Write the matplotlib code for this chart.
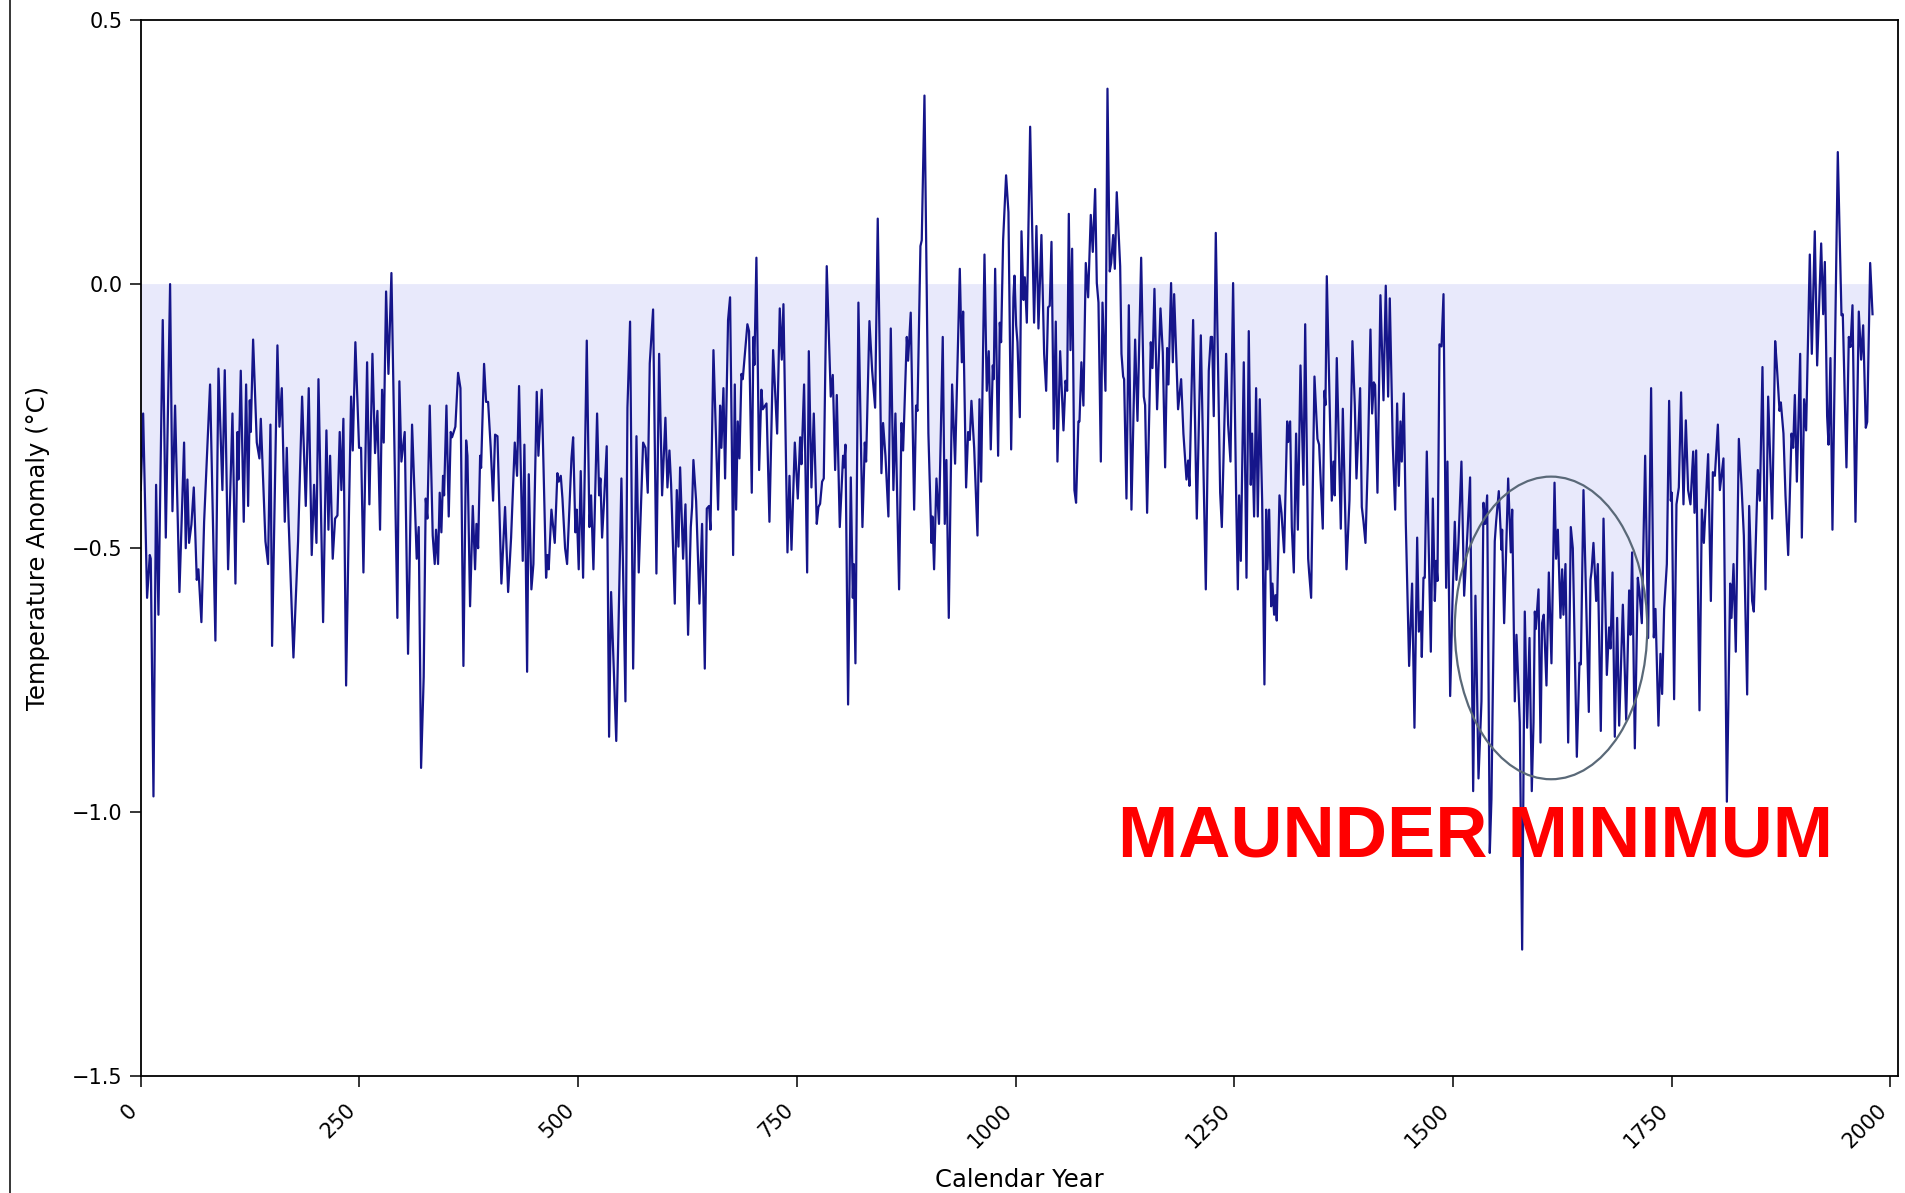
#!/usr/bin/env python3
"""
Reconstructed temperature anomaly, years 0-1980, with the Maunder Minimum marked.
Writes out.png
"""

import numpy as np
import matplotlib
matplotlib.use('Agg')
import matplotlib.pyplot as plt
from matplotlib.patches import Ellipse
from matplotlib.lines import Line2D

# turning points of the curve
years = [
    0.0, 2.7, 7.2, 10.3, 11.4, 14.5, 17.5, 20.2, 25.1, 28.6,
    33.5, 36.2, 39.2, 44.2, 49.5, 51.4, 53.3, 55.2, 57.9, 60.6,
    64.0, 65.9, 69.3, 72.4, 79.2, 85.3, 88.8, 93.3, 96.0, 99.8,
    104.8, 108.2, 110.5, 111.6, 114.3, 117.7, 120.4, 122.7, 124.6, 125.7,
    128.4, 132.6, 135.6, 137.2, 142.5, 145.5, 148.2, 150.1, 156.2, 158.5,
    161.2, 164.6, 166.9, 168.8, 174.5,
    179.8, 184.4, 188.6, 192.0, 195.4, 198.1, 200.8, 203.1, 208.4, 212.2,
    214.5, 216.4, 219.4, 222.1, 224.8, 227.4, 229.3, 231.6, 234.7, 238.1,
    240.4, 242.3, 245.3, 249.5, 251.8, 254.5, 258.7, 261.3, 264.8, 267.8,
    270.5, 273.5, 275.8, 277.7, 280.4, 283.1, 286.5, 293.3, 295.6, 297.9,
    301.7, 305.5, 310.1, 313.2, 315.4, 317.7, 320.4, 323.4, 325.7, 327.6,
    330.3, 333.7, 336.0, 337.5, 339.8, 341.7, 343.6, 345.5, 346.7, 349.4,
    352.0, 354.3, 355.8, 359.6, 362.7,
    365.4, 368.8, 371.9, 373.4, 376.4, 379.5, 382.1, 383.7, 385.6, 387.9,
    389.0, 392.4, 394.7, 397.0, 400.0, 402.7, 405.0, 407.7, 412.2, 416.4,
    419.9, 423.3, 427.5, 430.1, 432.4, 436.6, 438.5, 441.6, 443.5, 446.5,
    448.8, 452.6, 454.5, 458.3, 463.3, 464.8, 466.3, 469.4, 473.2, 476.2,
    477.8, 480.1, 482.0, 485.0, 487.3, 492.3, 494.2, 496.8, 498.3, 500.6,
    502.9, 505.6, 509.8, 512.8, 514.7, 517.4, 521.6, 523.9, 525.4, 527.3,
    529.6, 532.6, 535.3, 537.6, 543.5,
    549.4, 554.0, 556.3, 559.3, 562.8, 566.6, 569.2, 574.2, 576.9, 579.5,
    581.8, 585.6, 589.4, 592.5, 595.9, 599.7, 602.0, 604.3, 606.2, 610.4,
    612.7, 614.6, 616.5, 619.9, 622.6, 625.6, 628.7, 630.2, 631.7, 634.8,
    638.6, 641.6, 644.7, 647.0, 649.6, 651.2, 654.6, 659.9, 662.2, 663.7,
    666.0, 667.9, 671.3, 673.6, 677.1, 679.0, 680.5, 682.4, 684.3, 686.6,
    688.1, 693.4, 695.3, 698.4, 700.3, 701.4, 703.7, 706.8, 709.4, 711.0,
    715.2, 718.6, 722.8, 727.4, 730.4,
    732.7, 734.6, 739.2, 741.5, 743.8, 747.6, 751.0, 753.7, 755.2, 758.2,
    761.7, 763.6, 766.6, 769.3, 772.7, 774.6, 776.5, 778.8, 780.7, 784.1,
    788.7, 791.0, 793.7, 795.6, 799.0, 802.8, 803.9, 805.5, 808.5, 811.6,
    813.9, 815.0, 816.9, 820.3, 824.9, 827.6, 829.1, 832.9, 836.0, 839.4,
    842.4, 846.6, 848.5, 851.2, 854.6, 857.3, 860.3, 862.6, 866.8, 869.5,
    871.4, 875.6, 877.1, 880.1, 884.0, 886.2, 887.8, 891.2, 892.7, 895.8,
    900.3, 903.8, 904.9, 906.8, 909.5, 912.4,
    916.7, 919.0, 920.9, 923.6, 927.4, 930.8, 936.2, 938.5, 940.0, 943.4,
    945.7, 947.6, 949.5, 952.6, 956.4, 958.7, 960.6, 964.4, 967.0, 969.3,
    971.6, 973.9, 975.0, 976.6, 980.0, 981.9, 983.4, 985.7, 989.1, 991.8,
    994.9, 997.5, 998.7, 1000.6, 1002.1, 1004.8, 1006.7, 1009.0, 1010.5, 1012.8,
    1016.6, 1021.1, 1023.8, 1026.1, 1029.5, 1032.6, 1034.9, 1037.1, 1039.0, 1041.0,
    1043.6, 1045.9, 1047.8, 1050.9, 1054.7, 1057.0, 1058.9, 1060.8, 1062.7, 1064.6,
    1067.2, 1069.1, 1071.8, 1073.0, 1075.2, 1077.5, 1080.2, 1082.9, 1085.9, 1088.2,
    1090.9, 1092.8, 1094.7, 1097.4,
    1099.3, 1102.7, 1105.0, 1107.6, 1109.2, 1111.5, 1113.4, 1115.6, 1119.5, 1121.0,
    1122.9, 1124.0, 1126.7, 1129.4, 1132.4, 1136.6, 1139.3, 1143.5, 1146.5, 1148.0,
    1150.3, 1154.5, 1156.4, 1158.7, 1161.7, 1165.6, 1168.2, 1170.9, 1173.2, 1174.7,
    1177.7, 1179.7, 1181.2, 1185.7, 1189.2, 1191.8, 1195.3, 1197.2, 1198.7, 1202.9,
    1207.1, 1211.7, 1217.4, 1220.8, 1223.1, 1224.6, 1226.5, 1228.8, 1233.8, 1235.7,
    1240.6, 1242.9, 1245.6, 1248.6, 1252.0, 1254.0, 1255.5, 1257.4, 1260.8, 1263.9,
    1266.5, 1268.8, 1270.3, 1272.6, 1274.9, 1276.8, 1279.1,
    1281.8, 1284.4, 1286.4, 1287.9, 1289.8, 1292.1, 1293.6, 1295.5, 1297.0, 1298.5,
    1301.6, 1303.9, 1306.9, 1310.4, 1311.5, 1313.8, 1315.7, 1318.0, 1320.6, 1322.6,
    1325.6, 1329.0, 1331.0, 1334.4, 1335.5, 1337.8, 1341.6, 1345.0, 1346.9, 1351.1,
    1353.0, 1354.2, 1355.7, 1359.1, 1361.4, 1363.3, 1364.8, 1367.1, 1371.7, 1374.0,
    1378.2, 1381.6, 1385.0, 1387.7, 1389.6, 1393.8, 1395.7, 1397.6, 1399.9, 1402.6,
    1405.6, 1407.5, 1409.4, 1410.9, 1413.6, 1417.0, 1420.5, 1423.1, 1425.8, 1427.7,
    1431.1, 1433.8, 1436.1, 1438.0, 1439.9, 1441.4, 1443.7, 1446.0, 1449.8, 1453.2,
    1455.9, 1459.0, 1460.9,
    1463.2, 1464.3, 1466.2, 1467.7, 1470.0, 1474.6, 1476.9, 1479.2, 1480.7, 1482.2,
    1484.5, 1486.8, 1489.1, 1492.1, 1493.6, 1496.7, 1499.4, 1502.0, 1503.9, 1506.2,
    1509.6, 1512.7, 1516.5, 1519.5, 1523.0, 1525.6, 1529.1, 1532.5, 1534.8, 1536.7,
    1539.0, 1542.0, 1543.9, 1547.7, 1549.3, 1552.3, 1555.4, 1556.1, 1558.4, 1563.0,
    1566.0, 1567.6, 1570.6, 1572.5, 1574.4, 1576.3, 1579.0, 1582.0, 1584.7, 1587.4,
    1590.0, 1592.0, 1593.5, 1594.6, 1597.7, 1600.0, 1601.8, 1603.7, 1606.8, 1609.5,
    1612.5, 1616.0, 1617.8, 1619.8, 1622.8, 1624.7, 1626.2, 1628.5, 1631.6, 1634.6,
    1636.9,
    1641.5, 1644.5, 1646.1, 1649.1, 1655.2, 1657.1, 1658.3, 1660.5, 1663.6, 1665.5,
    1668.9, 1672.0, 1675.8, 1678.4, 1680.0, 1682.3, 1684.9, 1687.6, 1689.9, 1694.1,
    1697.9, 1701.3, 1702.8, 1704.7, 1707.8, 1711.2, 1713.1, 1715.8, 1719.6, 1723.0,
    1726.4, 1729.5, 1731.4, 1734.8, 1737.1, 1739.0, 1741.3, 1744.4, 1747.0, 1748.9,
    1750.1, 1752.7, 1755.4, 1758.1, 1760.7, 1763.4, 1766.1, 1768.7, 1771.4, 1774.5,
    1776.0, 1777.9, 1781.7, 1784.4, 1786.7, 1791.6, 1794.7, 1797.0, 1799.3, 1802.7,
    1805.0, 1809.1, 1813.0, 1816.8, 1818.3, 1820.6, 1823.2, 1826.7,
    1829.7, 1832.4, 1836.2, 1838.5, 1841.9, 1843.8, 1848.4, 1850.7, 1853.7, 1857.2,
    1860.2, 1864.8, 1868.2, 1870.1, 1873.2, 1874.7, 1877.7, 1880.0, 1883.1, 1886.9,
    1888.8, 1890.7, 1893.0, 1896.8, 1898.7, 1901.3, 1903.6, 1907.8, 1910.1, 1913.5,
    1916.2, 1920.8, 1923.1, 1925.0, 1927.6, 1929.2, 1931.4, 1933.7, 1939.8, 1944.0,
    1945.5, 1949.7, 1952.4, 1954.3, 1956.6, 1960.0, 1963.8, 1966.5, 1968.8, 1971.8,
    1973.4, 1976.8, 1979.5,
]

anomaly = [
    -0.39, -0.245, -0.594, -0.513, -0.52, -0.97, -0.38, -0.626, -0.068, -0.48,
    0.0, -0.43, -0.23, -0.583, -0.30, -0.50, -0.37, -0.49, -0.455, -0.385,
    -0.56, -0.54, -0.64, -0.45, -0.19, -0.675, -0.16, -0.39, -0.163, -0.54,
    -0.245, -0.567, -0.28, -0.37, -0.164, -0.45, -0.19, -0.42, -0.22, -0.28,
    -0.105, -0.30, -0.33, -0.255, -0.487, -0.53, -0.266, -0.685, -0.116, -0.27,
    -0.197, -0.45, -0.31, -0.44, -0.707,
    -0.487, -0.213, -0.42, -0.197, -0.513, -0.38, -0.49, -0.18, -0.64, -0.277,
    -0.465, -0.325, -0.52, -0.444, -0.438, -0.28, -0.39, -0.255, -0.76, -0.42,
    -0.213, -0.315, -0.11, -0.31, -0.31, -0.546, -0.148, -0.417, -0.132, -0.32,
    -0.24, -0.465, -0.20, -0.30, -0.014, -0.17, 0.021, -0.632, -0.184, -0.336,
    -0.28, -0.70, -0.266, -0.41, -0.52, -0.46, -0.916, -0.744, -0.406, -0.444,
    -0.23, -0.476, -0.53, -0.465, -0.53, -0.395, -0.47, -0.363, -0.40, -0.23,
    -0.44, -0.28, -0.29, -0.27, -0.168,
    -0.197, -0.723, -0.296, -0.325, -0.61, -0.42, -0.54, -0.454, -0.50, -0.325,
    -0.348, -0.151, -0.223, -0.223, -0.31, -0.41, -0.285, -0.288, -0.567, -0.422,
    -0.583, -0.48, -0.30, -0.363, -0.193, -0.524, -0.304, -0.734, -0.36, -0.578,
    -0.53, -0.204, -0.325, -0.20, -0.556, -0.513, -0.54, -0.427, -0.49, -0.358,
    -0.374, -0.363, -0.406, -0.50, -0.53, -0.33, -0.29, -0.47, -0.427, -0.54,
    -0.354, -0.556, -0.107, -0.46, -0.40, -0.54, -0.245, -0.40, -0.368, -0.48,
    -0.41, -0.307, -0.857, -0.583, -0.865,
    -0.368, -0.79, -0.234, -0.071, -0.728, -0.288, -0.546, -0.30, -0.31, -0.395,
    -0.15, -0.048, -0.548, -0.132, -0.40, -0.253, -0.385, -0.315, -0.38, -0.605,
    -0.39, -0.497, -0.347, -0.52, -0.417, -0.664, -0.46, -0.422, -0.333, -0.411,
    -0.605, -0.454, -0.728, -0.425, -0.42, -0.465, -0.125, -0.427, -0.23, -0.31,
    -0.197, -0.368, -0.068, -0.025, -0.513, -0.19, -0.427, -0.26, -0.33, -0.17,
    -0.18, -0.076, -0.089, -0.395, -0.10, -0.153, 0.05, -0.352, -0.20, -0.237,
    -0.226, -0.45, -0.125, -0.283, -0.046,
    -0.143, -0.038, -0.508, -0.363, -0.503, -0.30, -0.406, -0.29, -0.341, -0.19,
    -0.546, -0.127, -0.385, -0.245, -0.454, -0.422, -0.416, -0.374, -0.368, 0.034,
    -0.213, -0.172, -0.352, -0.21, -0.46, -0.325, -0.347, -0.304, -0.796, -0.366,
    -0.594, -0.53, -0.718, -0.035, -0.46, -0.30, -0.336, -0.07, -0.164, -0.234,
    0.124, -0.358, -0.263, -0.325, -0.44, -0.084, -0.39, -0.245, -0.578, -0.263,
    -0.315, -0.10, -0.145, -0.054, -0.427, -0.23, -0.24, 0.072, 0.083, 0.357,
    -0.283, -0.49, -0.44, -0.54, -0.368, -0.454,
    -0.10, -0.454, -0.333, -0.632, -0.19, -0.34, 0.029, -0.148, -0.052, -0.385,
    -0.28, -0.295, -0.221, -0.31, -0.476, -0.218, -0.374, 0.056, -0.202, -0.127,
    -0.313, -0.154, -0.18, 0.029, -0.325, -0.073, -0.11, 0.083, 0.206, 0.136,
    -0.313, -0.025, 0.016, -0.078, -0.11, -0.252, 0.10, -0.03, 0.013, -0.073,
    0.298, -0.073, 0.11, -0.084, 0.093, -0.132, -0.202, -0.044, -0.041, 0.08,
    -0.274, -0.071, -0.336, -0.127, -0.277, -0.183, -0.202, 0.133, -0.125, 0.067,
    -0.39, -0.414, -0.26, -0.26, -0.148, -0.23, 0.04, -0.025, 0.131, 0.061,
    0.18, 0.002, -0.035, -0.336,
    -0.035, -0.202, 0.37, 0.024, 0.04, 0.093, 0.029, 0.174, 0.034, -0.132,
    -0.175, -0.18, -0.406, -0.04, -0.427, -0.105, -0.259, 0.05, -0.213, -0.229,
    -0.433, -0.11, -0.159, -0.009, -0.237, -0.046, -0.129, -0.347, -0.121, -0.19,
    0.002, -0.148, -0.019, -0.237, -0.18, -0.283, -0.37, -0.334, -0.382, -0.068,
    -0.444, -0.097, -0.578, -0.164, -0.10, -0.10, -0.25, 0.097, -0.395, -0.46,
    -0.132, -0.266, -0.336, 0.002, -0.395, -0.578, -0.40, -0.524, -0.148, -0.556,
    -0.089, -0.38, -0.283, -0.44, -0.197, -0.44, -0.218,
    -0.41, -0.758, -0.427, -0.54, -0.427, -0.61, -0.567, -0.626, -0.589, -0.637,
    -0.40, -0.433, -0.508, -0.26, -0.299, -0.26, -0.46, -0.546, -0.283, -0.465,
    -0.154, -0.38, -0.076, -0.52, -0.546, -0.594, -0.175, -0.293, -0.304, -0.463,
    -0.202, -0.229, 0.015, -0.24, -0.41, -0.336, -0.40, -0.14, -0.463, -0.236,
    -0.54, -0.41, -0.108, -0.23, -0.368, -0.197, -0.422, -0.449, -0.49, -0.336,
    -0.086, -0.245, -0.186, -0.191, -0.395, -0.021, -0.22, -0.003, -0.213, -0.027,
    -0.304, -0.427, -0.226, -0.382, -0.26, -0.336, -0.207, -0.454, -0.723, -0.567,
    -0.84, -0.48, -0.658,
    -0.62, -0.706, -0.556, -0.556, -0.317, -0.696, -0.406, -0.60, -0.524, -0.562,
    -0.114, -0.118, -0.019, -0.575, -0.336, -0.78, -0.60, -0.45, -0.56, -0.49,
    -0.336, -0.59, -0.47, -0.366, -0.96, -0.59, -0.936, -0.79, -0.414, -0.454,
    -0.40, -1.077, -0.975, -0.487, -0.449, -0.392, -0.503, -0.465, -0.642, -0.368,
    -0.508, -0.427, -0.79, -0.664, -0.745, -0.83, -1.26, -0.62, -0.84, -0.67,
    -0.96, -0.83, -0.62, -0.653, -0.578, -0.868, -0.642, -0.626, -0.76, -0.546,
    -0.718, -0.376, -0.52, -0.465, -0.632, -0.54, -0.626, -0.53, -0.868, -0.46,
    -0.50,
    -0.895, -0.717, -0.72, -0.39, -0.81, -0.56, -0.545, -0.49, -0.60, -0.53,
    -0.846, -0.444, -0.74, -0.65, -0.69, -0.546, -0.857, -0.632, -0.836, -0.607,
    -0.825, -0.58, -0.664, -0.508, -0.879, -0.556, -0.583, -0.642, -0.325, -0.67,
    -0.197, -0.669, -0.615, -0.836, -0.70, -0.776, -0.615, -0.53, -0.221, -0.41,
    -0.395, -0.786, -0.417, -0.385, -0.205, -0.417, -0.258, -0.39, -0.417, -0.317,
    -0.433, -0.315, -0.807, -0.427, -0.49, -0.322, -0.60, -0.356, -0.363, -0.266,
    -0.39, -0.33, -0.98, -0.567, -0.632, -0.53, -0.696, -0.293,
    -0.38, -0.476, -0.777, -0.42, -0.60, -0.62, -0.352, -0.41, -0.157, -0.578,
    -0.213, -0.444, -0.108, -0.154, -0.24, -0.224, -0.283, -0.40, -0.513, -0.283,
    -0.31, -0.21, -0.374, -0.132, -0.48, -0.218, -0.277, 0.056, -0.132, 0.10,
    -0.154, 0.077, -0.057, 0.042, -0.25, -0.304, -0.14, -0.465, 0.25, -0.059,
    -0.057, -0.347, -0.10, -0.119, -0.04, -0.45, -0.052, -0.143, -0.078, -0.272,
    -0.261, 0.04, -0.057,
]

x_ticks = [0, 250, 500, 750, 1000, 1250, 1500, 1750, 2000]
y_ticks = [0.5, 0.0, -0.5, -1.0, -1.5]

# Maunder Minimum marker: ellipse centre / size in data units, label text
mm_center = (1612, -0.651)
mm_width = 220
mm_height = 0.573
mm_label = 'MAUNDER MINIMUM'
mm_label_pos = (1526, -1.047)

LINE_COLOR = '#15158a'
FILL_COLOR = '#e8e9fb'
ELLIPSE_COLOR = '#5a6978'


def main():
    assert len(years) == len(anomaly)
    x = np.array(years)
    y = np.array(anomaly)

    plt.rcParams['font.family'] = ['DejaVu Sans']

    fig = plt.figure(figsize=(19.05, 11.93), dpi=100)
    fig.patch.set_facecolor('white')
    ax = fig.add_axes([0.0739, 0.0978, 0.9226, 0.8854])

    ax.fill_between(x, y, 0, where=y < 0, interpolate=True,
                    color=FILL_COLOR, linewidth=0, zorder=1)
    ax.plot(x, y, color=LINE_COLOR, linewidth=1.6, zorder=2)

    ell = Ellipse(mm_center, mm_width, mm_height, facecolor='none',
                  edgecolor=ELLIPSE_COLOR, linewidth=1.6, zorder=3)
    ax.add_patch(ell)

    ax.text(mm_label_pos[0], mm_label_pos[1], mm_label, ha='center', va='center',
            fontsize=52, fontweight='bold', color='#ff0000',
            family=['Liberation Sans', 'DejaVu Sans'], zorder=4)

    ax.set_xlim(0, 2009)
    ax.set_ylim(-1.5, 0.5)
    ax.set_xticks(x_ticks)
    ax.set_yticks(y_ticks)
    ax.set_xticklabels([str(t) for t in x_ticks], rotation=45, ha='right')
    ax.set_yticklabels([f'{t:.1f}'.replace('-', '\u2212') for t in y_ticks])
    ax.tick_params(axis='both', labelsize=15, length=8, width=1.1, direction='out')
    ax.tick_params(axis='y', pad=5)
    ax.tick_params(axis='x', pad=9)

    for side in ['left', 'right', 'top', 'bottom']:
        ax.spines[side].set_linewidth(1.3)

    ax.set_xlabel('Calendar Year', fontsize=17.5, labelpad=12)
    ax.set_ylabel('Temperature Anomaly (\u00b0C)', fontsize=17.5, labelpad=16)

    # stray frame edge at the left of the source image
    fig.add_artist(Line2D([0.0054, 0.0054], [0.0, 1.0], transform=fig.transFigure,
                          color='black', linewidth=1.1))

    fig.savefig('out.png', dpi=100, facecolor='white')
    plt.close(fig)


if __name__ == '__main__':
    main()
